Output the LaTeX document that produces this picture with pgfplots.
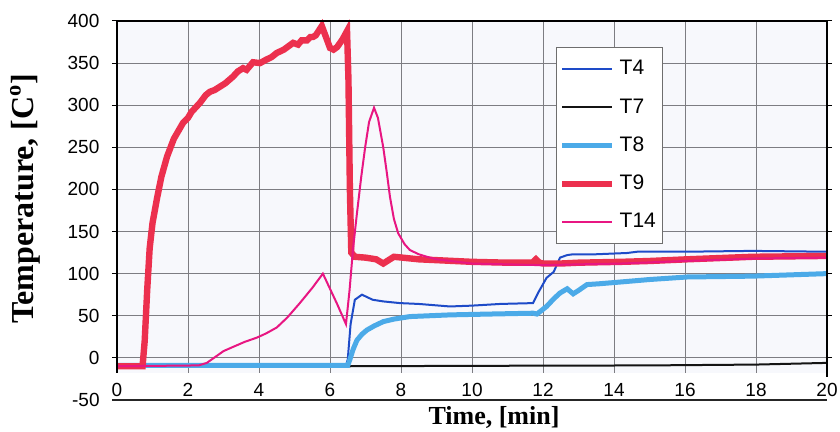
\documentclass[border=0pt]{standalone}
\usepackage{fontspec}
\setmainfont{Liberation Serif}
\newfontfamily\arial{Liberation Sans}
\usepackage{pgfplots}
\pgfplotsset{compat=1.18}
\definecolor{cT4}{RGB}{30,75,200}
\definecolor{cT7}{RGB}{20,20,20}
\definecolor{cT8}{RGB}{75,170,232}
\definecolor{cT9}{RGB}{236,48,78}
\definecolor{cT14}{RGB}{232,22,130}
\definecolor{gridc}{RGB}{125,125,130}
\definecolor{bgc}{RGB}{247,248,252}

\begin{document}
\begin{tikzpicture}
\begin{axis}[
  name=a,
  scale only axis,
  width=355pt, height=176pt,
  xmin=0, xmax=20, ymin=-18, ymax=400,
  xtick={0,2,...,20}, ytick={0,50,...,400},
  grid=major,
  grid style={gridc, line width=0.5pt},
  axis background/.style={fill=bgc},
  axis line style={draw=none},
  tick align=outside,
  major tick length=2.5pt,
  xtick style={draw=none},
  ytick style={black, line width=0.5pt},
  /pgf/number format/assume math mode=true,
  tick label style={font=\arial\fontsize{9.5}{11}\selectfont},
  yticklabel style={xshift=-2.8pt},
  xticklabel style={yshift=1pt},
  every axis y label/.style={at={(axis description cs:-0.1296,0.495)}, rotate=90, anchor=center},
  every axis x label/.style={at={(axis description cs:0.531,-0.125)}, anchor=center},
  ylabel={\bfseries\fontsize{16}{18}\selectfont Temperature, [C\textsuperscript{o}]},
  xlabel={\bfseries\fontsize{13}{15}\selectfont Time, [min]},
  legend style={at={(0.618,0.926)}, anchor=north west,
    draw={rgb,255:red,110;green,110;blue,110}, line width=0.5pt, fill=white,
    font=\arial\fontsize{10.5}{12}\selectfont,
    row sep=6.3pt, inner xsep=1.5pt, inner ysep=4.5pt},
  legend cell align=left,
  legend image code/.code={\draw[#1] (0pt,0pt) -- (25pt,0pt);},
  clip=false,
  extra description/.code={
    \draw[black, line width=1pt] (axis description cs:0,0) -- (axis description cs:0,1)
      -- (axis description cs:1,1) -- (axis description cs:1,-0.01);
    \draw[black!85, line width=0.8pt] ([xshift=-2.5pt]axis description cs:0,-0.0767) -- (axis description cs:1,-0.0767);
    \node[anchor=east, inner sep=0pt, font=\arial\fontsize{9.5}{11}\selectfont]
      at ([xshift=-8.5pt]axis description cs:0,-0.0767) {-50};
  },
]
\addplot[cT4, line width=1pt] coordinates {
(0,-9) (6.45,-9) (6.5,-2) (6.58,40) (6.7,69) (6.9,75) (7.2,69) (7.5,67)
(7.97,65) (8.5,64) (9.38,61) (10.0,62) (10.8,64) (11.72,65) (11.86,77)
(12.1,95) (12.3,102) (12.48,119) (12.68,122) (12.85,123) (13.5,123)
(14.37,124.5) (14.65,126) (16,126) (17.9,127) (20,126)
};
\addplot[cT7, line width=1pt] coordinates {
(0,-10) (6.5,-10) (10,-9.5) (15,-9) (18,-8) (20,-6)
};
\addplot[cT8, line width=2.5pt] coordinates {
(0,-9) (6.5,-9) (6.56,-2) (6.65,10) (6.76,21) (6.9,28) (7.04,33) (7.25,38)
(7.5,43) (7.8,46) (8.25,49) (9.38,51) (10.5,52) (11.72,53) (11.83,52)
(12.1,61) (12.3,70) (12.48,77) (12.68,82) (12.85,76) (13.0,80) (13.24,87)
(13.6,88) (14.17,90) (15,93) (16.06,96) (17.9,97) (20,100)
};
\addplot[cT9, line width=3.2pt] coordinates {
(0,-10) (0.72,-10) (0.78,20) (0.85,80) (0.92,130) (1.0,160) (1.13,190)
(1.25,215) (1.41,239) (1.6,260) (1.86,279) (2.0,285) (2.1,292) (2.34,303)
(2.5,312) (2.62,316) (2.75,318) (2.9,322) (3.05,326) (3.27,334) (3.4,340)
(3.55,344) (3.65,342) (3.83,351) (4.03,350) (4.2,354) (4.35,357) (4.5,362)
(4.7,366) (4.96,374) (5.1,372) (5.2,377) (5.35,377) (5.45,381) (5.52,381)
(5.6,383) (5.77,394) (5.85,385) (6.0,368) (6.1,366) (6.2,369) (6.35,378)
(6.48,388) (6.52,330) (6.56,200) (6.6,125) (6.7,120) (7.0,119) (7.3,117)
(7.5,112) (7.65,116) (7.8,120) (8.5,117) (9.0,116) (10.0,114) (11.0,113)
(11.7,113) (11.8,117) (11.9,113) (12.0,112) (12.5,112) (13.0,113)
(14.2,114) (15,115) (16.06,117) (17.9,120) (20,121)
};
\addplot[cT14, line width=1pt] coordinates {
(0,-10) (2.3,-9) (2.53,-6) (2.8,2) (3.0,8) (3.27,13) (3.6,19) (3.94,24)
(4.2,29) (4.5,36) (4.8,48) (5.15,65) (5.5,83) (5.8,100) (6.0,82) (6.2,64)
(6.45,40) (6.55,80) (6.65,130) (6.76,172) (6.88,215) (6.99,250) (7.1,280)
(7.24,297) (7.35,285) (7.5,250) (7.6,220) (7.69,191) (7.8,165) (7.92,148)
(8.1,135) (8.25,128) (8.5,123) (8.73,120) (9.0,117) (10,112) (11,111)
(12,110) (13,111) (14.2,112) (16,115) (18,118) (20,119)
};
\legend{T4,T7,T8,T9,T14}
\end{axis}
\pgfresetboundingbox
\path ([shift={(-58.5pt,-29.5pt)}]a.south west) rectangle ([shift={(6.5pt,10.5pt)}]a.north east);
\end{tikzpicture}
\end{document}
